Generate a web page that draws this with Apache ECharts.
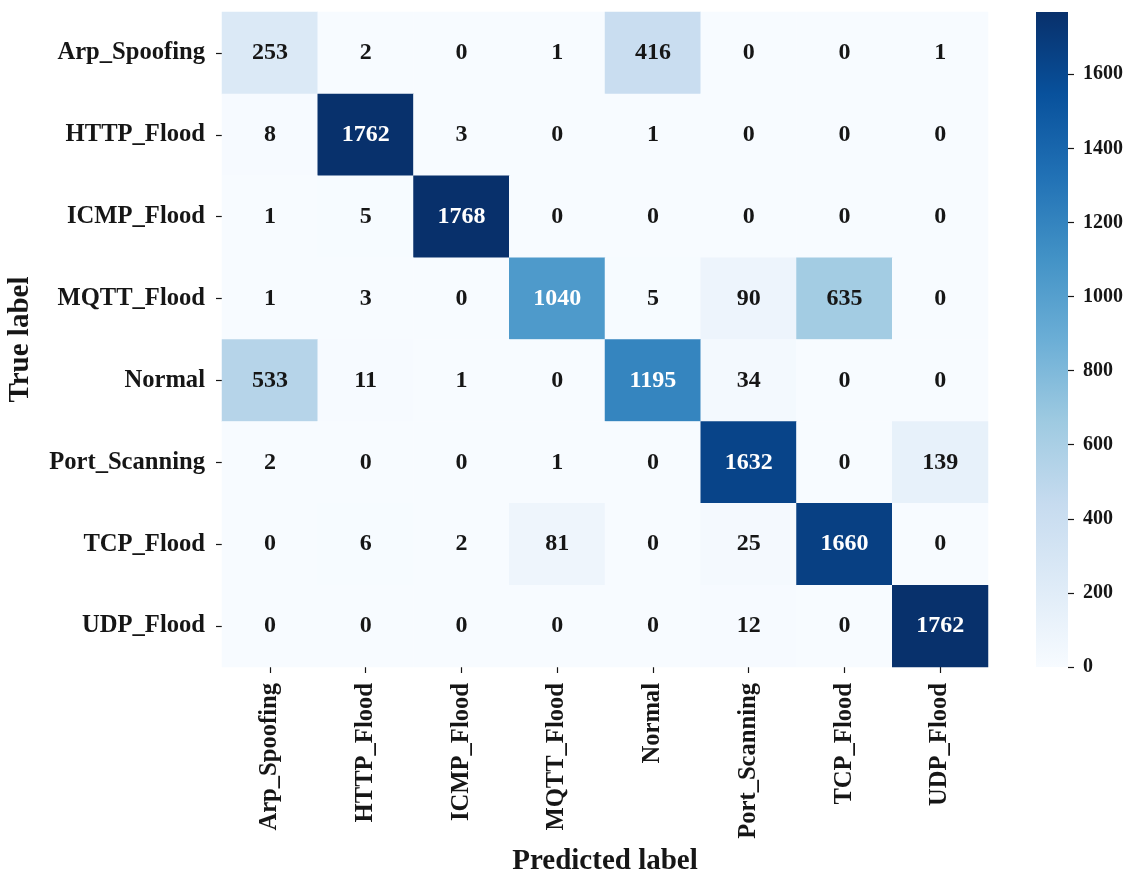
<!DOCTYPE html>
<html>
<head>
<meta charset="utf-8">
<title>Confusion matrix</title>
<script src="https://cdn.jsdelivr.net/npm/echarts@6/dist/echarts.min.js"></script>
<style>
  html, body { margin: 0; padding: 0; background: #ffffff; }
  #chart { width: 1131px; height: 872px; }
</style>
</head>
<body>
<div id="chart"></div>
<script>
// Class names (rows: true label, columns: predicted label)
const classes = ['Arp_Spoofing', 'HTTP_Flood', 'ICMP_Flood', 'MQTT_Flood',
                 'Normal', 'Port_Scanning', 'TCP_Flood', 'UDP_Flood'];

// Confusion matrix counts, one array per true class
const rowArpSpoofing  = [253, 2, 0, 1, 416, 0, 0, 1];
const rowHttpFlood    = [8, 1762, 3, 0, 1, 0, 0, 0];
const rowIcmpFlood    = [1, 5, 1768, 0, 0, 0, 0, 0];
const rowMqttFlood    = [1, 3, 0, 1040, 5, 90, 635, 0];
const rowNormal       = [533, 11, 1, 0, 1195, 34, 0, 0];
const rowPortScanning = [2, 0, 0, 1, 0, 1632, 0, 139];
const rowTcpFlood     = [0, 6, 2, 81, 0, 25, 1660, 0];
const rowUdpFlood     = [0, 0, 0, 0, 0, 12, 0, 1762];

// Colour bar tick labels
const colorbarTicks = [0, 200, 400, 600, 800, 1000, 1200, 1400, 1600];

const matrix = [rowArpSpoofing, rowHttpFlood, rowIcmpFlood, rowMqttFlood,
                rowNormal, rowPortScanning, rowTcpFlood, rowUdpFlood];

// "Blues" sequential palette, light to dark
const blues = ['#f7fbff', '#deebf7', '#c6dbef', '#9ecae1', '#6baed6',
               '#4292c6', '#2171b5', '#08519c', '#08306b'];

const vMax = Math.max(...matrix.map(r => Math.max(...r)));
const FONT = '"Liberation Serif", "Times New Roman", serif';
const INK = '#161616';

const cells = [];
matrix.forEach((row, i) => {
  row.forEach((v, j) => {
    cells.push({
      value: [j, i, v],
      label: { color: v > 0.45 * vMax ? '#ffffff' : INK }
    });
  });
});

const chart = echarts.init(document.getElementById('chart'), null, { renderer: 'canvas' });

const gradientStops = blues.slice().reverse().map((c, k) => ({ offset: k / (blues.length - 1), color: c }));

chart.setOption({
  animation: false,
  backgroundColor: '#ffffff',
  textStyle: { fontFamily: FONT },
  grid: [
    { left: 222, top: 12, width: 766, height: 655, outerBoundsMode: 'none', containLabel: false },
    { left: 1036, top: 12, width: 32, height: 655, outerBoundsMode: 'none', containLabel: false }
  ],
  xAxis: [
    {
      type: 'category',
      gridIndex: 0,
      data: classes,
      name: 'Predicted label',
      nameLocation: 'middle',
      nameGap: 178,
      nameTextStyle: { fontFamily: FONT, fontWeight: 'bold', fontSize: 29, color: INK },
      axisLine: { show: false },
      axisTick: { show: true, alignWithLabel: true, length: 6, lineStyle: { color: INK, width: 1.2 } },
      axisLabel: { rotate: 90, margin: 16, fontFamily: FONT, fontWeight: 'bold', fontSize: 24.6, color: INK, interval: 0 },
      splitLine: { show: false },
      splitArea: { show: false }
    },
    {
      type: 'category',
      gridIndex: 1,
      data: [''],
      show: false
    }
  ],
  yAxis: [
    {
      type: 'category',
      gridIndex: 0,
      data: classes,
      inverse: true,
      name: 'True label',
      nameLocation: 'middle',
      nameGap: 187,
      nameRotate: 90,
      nameTextStyle: { fontFamily: FONT, fontWeight: 'bold', fontSize: 29, color: INK },
      axisLine: { show: false },
      axisTick: { show: true, alignWithLabel: true, length: 6, lineStyle: { color: INK, width: 1.2 } },
      axisLabel: { margin: 17, fontFamily: FONT, fontWeight: 'bold', fontSize: 24.6, color: INK, interval: 0 },
      splitLine: { show: false },
      splitArea: { show: false }
    },
    {
      type: 'value',
      gridIndex: 1,
      min: 0,
      max: vMax,
      position: 'right',
      axisLine: { show: false },
      axisTick: { show: true, length: 6, customValues: colorbarTicks, lineStyle: { color: INK, width: 1.2 } },
      axisLabel: {
        margin: 15,
        customValues: colorbarTicks,
        formatter: v => String(v),
        fontFamily: FONT, fontWeight: 'bold', fontSize: 20, color: INK
      },
      splitLine: { show: false }
    }
  ],
  visualMap: {
    type: 'continuous',
    show: false,
    min: 0,
    max: vMax,
    seriesIndex: 0,
    inRange: { color: blues }
  },
  series: [
    {
      type: 'heatmap',
      xAxisIndex: 0,
      yAxisIndex: 0,
      data: cells,
      itemStyle: { borderWidth: 0 },
      label: {
        show: true,
        formatter: p => String(p.value[2]),
        fontFamily: FONT,
        fontWeight: 'bold',
        fontSize: 24
      },
      emphasis: { disabled: true }
    },
    {
      // colour bar drawn as one full-height bar with the palette as a gradient
      type: 'bar',
      xAxisIndex: 1,
      yAxisIndex: 1,
      data: [vMax],
      barWidth: '100%',
      silent: true,
      itemStyle: { color: new echarts.graphic.LinearGradient(0, 0, 0, 1, gradientStops) }
    }
  ]
});
</script>
</body>
</html>
